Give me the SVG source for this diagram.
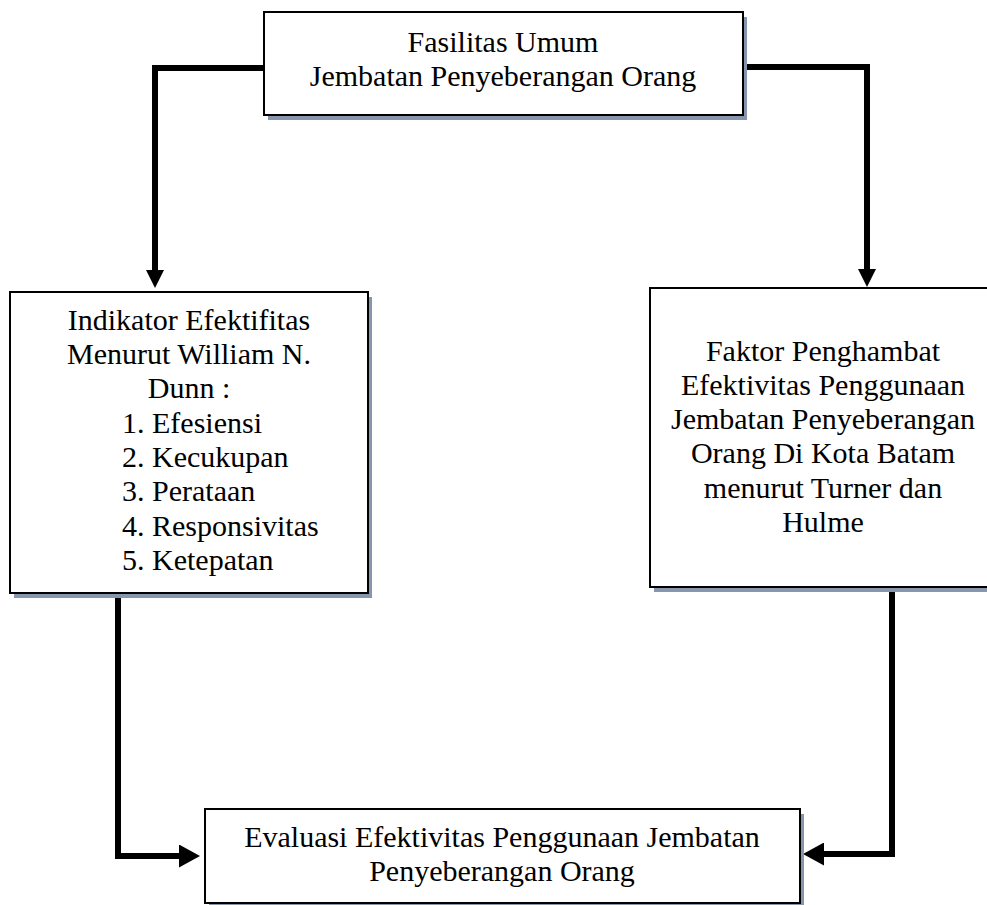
<svg xmlns="http://www.w3.org/2000/svg" width="987" height="905" viewBox="0 0 987 905">
<style>
.box{fill:#fff;stroke:#000;stroke-width:2}
.sh{fill:#8596ad}
.t{font-family:"Liberation Serif","Times New Roman",serif;font-size:30px;fill:#000}
.c{text-anchor:middle}
.conn{fill:none;stroke:#000;stroke-width:6;stroke-linejoin:miter}
</style>
<defs>
<marker id="ah" viewBox="0 0 18 18" refX="0" refY="9" markerWidth="18" markerHeight="18" markerUnits="userSpaceOnUse" orient="auto">
<path d="M0,0 L18,9 L0,18 z" fill="#000"/>
</marker>
<marker id="ah2" viewBox="0 0 21 23" refX="0" refY="11.5" markerWidth="21" markerHeight="23" markerUnits="userSpaceOnUse" orient="auto">
<path d="M0,0 L21,11.5 L0,23 z" fill="#000"/>
</marker>
</defs>
<rect width="987" height="905" fill="#fff"/>
<g id="connectors">
<path class="conn" d="M264,68 H155 V270" marker-end="url(#ah)"/>
<path class="conn" d="M743,67 H867 V269" marker-end="url(#ah)"/>
<path class="conn" d="M118,593 V856 H179" marker-end="url(#ah2)"/>
<path class="conn" d="M892,587 V854 H824" marker-end="url(#ah2)"/>
</g>
<g id="node-fasilitas">
<rect class="sh" x="268" y="17" width="479" height="103"/>
<rect class="box" x="264" y="12" width="479" height="103"/>
<text class="t c" x="503" y="52">Fasilitas Umum</text>
<text class="t c" x="503" y="86">Jembatan Penyeberangan Orang</text>
</g>
<g id="node-indikator">
<rect class="sh" x="14" y="297" width="358" height="301"/>
<rect class="box" x="10" y="292" width="358" height="301"/>
<text class="t c" x="189" y="330">Indikator Efektifitas</text>
<text class="t c" x="189" y="364">Menurut William N.</text>
<text class="t c" x="189" y="398">Dunn :</text>
<text class="t" x="122" y="433">1. Efesiensi</text>
<text class="t" x="122" y="467">2. Kecukupan</text>
<text class="t" x="122" y="501">3. Perataan</text>
<text class="t" x="122" y="536">4. Responsivitas</text>
<text class="t" x="122" y="570">5. Ketepatan</text>
</g>
<g id="node-faktor">
<rect class="sh" x="654" y="293" width="347" height="299"/>
<rect class="box" x="650" y="288" width="347" height="299"/>
<text class="t c" x="823" y="361">Faktor Penghambat</text>
<text class="t c" x="823" y="395">Efektivitas Penggunaan</text>
<text class="t c" x="823" y="429">Jembatan Penyeberangan</text>
<text class="t c" x="823" y="463">Orang Di Kota Batam</text>
<text class="t c" x="823" y="498">menurut Turner dan</text>
<text class="t c" x="823" y="532">Hulme</text>
</g>
<g id="node-evaluasi">
<rect class="sh" x="209" y="814" width="595" height="94"/>
<rect class="box" x="205" y="809" width="595" height="94"/>
<text class="t c" x="502" y="847">Evaluasi Efektivitas Penggunaan Jembatan</text>
<text class="t c" x="502" y="881">Penyeberangan Orang</text>
</g>
</svg>
